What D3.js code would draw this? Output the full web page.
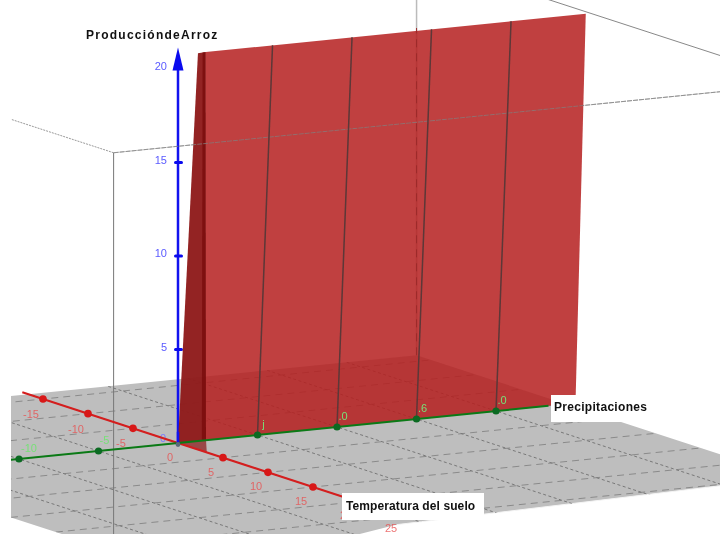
<!DOCTYPE html>
<html>
<head>
<meta charset="utf-8">
<script src="https://cdn.jsdelivr.net/npm/d3@7"></script>
<style>
  html, body { margin: 0; padding: 0; background: #fff; }
  svg { display: block; filter: blur(0.35px); }
  text { font-family: "Liberation Sans", sans-serif; }
</style>
</head>
<body>
<div id="chart"></div>
<script>
var tempTicks = [-15, -10, -5, 0, 5, 10, 15, 25],
    tempDots = [-15, -10, -5, 5, 10, 15],
    precipTicks = [-10, -5, 5, 10, 15, 20],
    precipLabels = ["-10", "-5", "j", ".0", ".6", ".0"],
    prodTicks = [5, 10, 15],
    prodLabels = [5, 10, 15, 20];

// surface: one sheet standing on the precipitation axis, leaning towards the viewer
var sheetLines = [5, 10, 15, 20],
    sheetLean = 1.67,
    sheetTop = 21.1,
    sheetStart = [1.76, 0.8],
    sheetEnd = [25, 24.7];

// box and floor limits
var tempMin = -16.6, tempMax = 25, tempMaxLeft = 27,
    precipMin = -19, precipMax = 24.4,
    boxTop = 21, boxBack = 21.32, boxLeft = -18.2;

var gridTemp = d3.range(-15, 30, 5),
    gridPrecip = d3.range(-15, 25, 5);

var svg = d3.select("#chart").append("svg");
svg.attr("width", "720");
svg.attr("height", "534");

var tempX = d3.scaleLinear().domain([0, 15]).range([178, 313]),
    tempY = d3.scaleLinear().domain([0, 15]).range([443, 487]),
    precipX = d3.scaleLinear().domain([0, 20]).range([0, 318]),
    precipY = d3.scaleLinear().domain([0, 20]).range([0, -32]),
    prodY = d3.scaleLinear().domain([0, 20]).range([0, -374]);

function project(t, p, z) {
    return [tempX(t) + precipX(p), tempY(t) + precipY(p) + prodY(z || 0)];
}

var line = d3.line();

function poly(points, fill, opacity, parent) {
    return (parent || svg).append("path")
        .attr("d", line(points) + "Z")
        .attr("fill", fill)
        .attr("opacity", opacity);
}

function seg(a, b, color, width, dash, parent) {
    return (parent || svg).append("path")
        .attr("d", line([a, b]))
        .attr("fill", "none")
        .attr("stroke", color)
        .attr("stroke-width", width)
        .attr("stroke-dasharray", dash || null);
}

var defs = svg.append("defs");
defs.append("clipPath").attr("id", "clip")
    .append("rect").attr("x", 11).attr("y", 0).attr("width", 709).attr("height", 534);

var floorPoints = [
    project(tempMin, precipMin),
    project(tempMin, precipMax),
    project(tempMax, precipMax),
    project(tempMaxLeft, -1.5),
    project(tempMaxLeft + 3, -8),
    project(tempMaxLeft, precipMin)
];
defs.append("clipPath").attr("id", "floorClip")
    .append("path").attr("d", line(floorPoints) + "Z");

var scene = svg.append("g").attr("clip-path", "url(#clip)");

// back edges of the box
seg(project(tempMax, boxLeft, boxTop), project(tempMin, boxLeft, boxTop), "#999", 1, "2 1", scene);
seg(project(tempMax, boxLeft, boxTop), project(tempMax, 30, boxTop), "#aaa", 1, "5 1", scene);
seg(project(tempMin, precipMax, boxBack), project(tempMax, precipMax, boxBack), "#888", 1, null, scene);
seg(project(tempMin, precipMax, 0), project(tempMin, precipMax, boxTop), "#bbb", 1.5, null, scene);

// floor and grid
poly(floorPoints, "#bebebe", 1, scene);
seg(project(tempMaxLeft, -1.5), project(tempMax, precipMax), "#f4f4f4", 1, null, scene);

var grid = scene.append("g").attr("clip-path", "url(#floorClip)");
gridTemp.forEach(function (t) {
    seg(project(t, precipMin), project(t, precipMax), "#8a8a8a", 1, "7 5", grid);
});
gridPrecip.forEach(function (p) {
    seg(project(tempMin, p), project(tempMaxLeft + 3, p), "#787878", 1, "3 2.5", grid);
});

seg(project(tempMaxLeft, precipMin), project(tempMaxLeft + 3, precipMin + 0.2), "#fff", 1.5, null, scene);
seg(project(tempMax, boxLeft), project(tempMax, boxLeft, boxTop), "#777", 1, null, scene);

scene.selectAll("text.temp")
    .data(tempTicks)
    .enter().append("text")
    .attr("class", "temp")
    .attr("x", function (d) { return project(d, 0)[0] - (d === 0 ? 8 : 12); })
    .attr("y", function (d) { return project(d, 0)[1] + (d === 25 ? 16 : d < 0 ? 19 : 18); })
    .attr("text-anchor", "middle")
    .attr("font-size", 11)
    .attr("fill", "#e85050")
    .attr("opacity", 0.8)
    .text(function (d) { return d; });
// only the first digit of 20 shows beside the label box
scene.append("text")
    .attr("x", project(20, 0)[0] - 18).attr("y", project(20, 0)[1] + 17)
    .attr("font-size", 11).attr("fill", "#e85050").attr("opacity", 0.8)
    .text("2");

// production axis stands behind the sheet
seg(project(0, 0), project(0, 0, 20.2), "#1212ee", 2.5, null, scene);
poly([project(0, 0, 21.15), [project(0, 0, 20)[0] + 5.5, project(0, 0, 20)[1] + 1.5], [project(0, 0, 20)[0] - 5.5, project(0, 0, 20)[1] + 1.5]], "#0a0aee", 1, scene);
scene.selectAll("rect.prod")
    .data(prodTicks)
    .enter().append("rect")
    .attr("class", "prod")
    .attr("x", function (d) { return project(0, 0, d)[0] - 4; })
    .attr("y", function (d) { return project(0, 0, d)[1] - 1.5; })
    .attr("width", 9).attr("height", 3).attr("rx", 1.5)
    .attr("fill", "#0a0aee");
scene.selectAll("text.prod")
    .data(prodLabels)
    .enter().append("text")
    .attr("class", "prod")
    .attr("x", function (d) { return project(0, 0, d)[0] - 11; })
    .attr("y", function (d) { return project(0, 0, d)[1] + 1; })
    .attr("text-anchor", "end")
    .attr("font-size", 11)
    .attr("fill", "#5a5aff")
    .text(function (d) { return d; });
scene.append("text")
    .attr("x", project(0, 0)[0] - 15).attr("y", project(0, 0)[1] - 1)
    .attr("text-anchor", "middle").attr("font-size", 11)
    .attr("fill", "#7a7aff").text("0");

// left wall of the surface
poly([
    project(sheetLean, 0.31, sheetTop - 0.02),
    project(sheetLean, sheetStart[1], sheetTop),
    project(0, sheetStart[0]),
    project(0, 0)
], "#8f1c1c", 0.97, scene);
poly([
    project(sheetLean, 0.6, sheetTop),
    project(sheetLean, sheetStart[1], sheetTop),
    project(0, sheetStart[0]),
    project(0, 1.5)
], "#760808", 0.7, scene);
poly([project(0, 0), project(3.2, 0), project(0, sheetStart[0])], "#8c1a1a", 0.72, scene);

// main surface
poly([
    project(0, sheetStart[0]),
    project(sheetLean, sheetStart[1], sheetTop),
    project(sheetLean, sheetEnd[1], sheetTop),
    project(0, sheetEnd[0])
], "#b51e1e", 0.85, scene);

// edges seen through the surface
seg(project(tempMax, boxLeft, boxTop), project(tempMax, 30, boxTop), "#888", 1, "5 1", scene).attr("opacity", 0.7);
seg(project(tempMin, precipMax, 0), project(tempMin, precipMax, 17.5), "#9c2a2a", 1, "8 6", scene);

sheetLines.forEach(function (p) {
    seg(project(0, p), project(sheetLean, p, sheetTop), "#5c3838", 1.5, null, scene);
});

// temperature axis
seg(project(-17.3, 0), project(18.4, 0), "#d41e1e", 2, null, scene);
scene.selectAll("circle.temp")
    .data(tempDots)
    .enter().append("circle")
    .attr("class", "temp")
    .attr("cx", function (d) { return project(d, 0)[0]; })
    .attr("cy", function (d) { return project(d, 0)[1]; })
    .attr("r", 3.8)
    .attr("fill", "#d81818");

// precipitation axis
seg(project(0, -11), project(0, 23.3), "#0b7a16", 2, null, scene);
scene.selectAll("circle.precip")
    .data(precipTicks)
    .enter().append("circle")
    .attr("class", "precip")
    .attr("cx", function (d) { return project(0, d)[0]; })
    .attr("cy", function (d) { return project(0, d)[1]; })
    .attr("r", 3.6)
    .attr("fill", "#0b6a22");
scene.selectAll("text.precip")
    .data(precipTicks)
    .enter().append("text")
    .attr("class", "precip")
    .attr("x", function (d) { return project(0, d)[0] + (d === -10 ? 10 : 6); })
    .attr("y", function (d) { return project(0, d)[1] - 7; })
    .attr("text-anchor", "middle")
    .attr("font-size", 11)
    .attr("fill", "#78e078")
    .text(function (d, i) { return precipLabels[i]; });

seg(project(0, 0), project(0, 0, 0.6), "#1212ee", 2.5, null, scene);
scene.append("circle")
    .attr("cx", project(0, 0)[0]).attr("cy", project(0, 0)[1] + 1.5)
    .attr("r", 2.4).attr("fill", "#5a6a78");

// axis titles
function boxLabel(txt, x, y, w, h, tx, ty, spacing) {
    svg.append("rect").attr("x", x).attr("y", y).attr("width", w).attr("height", h).attr("fill", "#fff");
    svg.append("text")
        .attr("x", tx).attr("y", ty)
        .attr("font-size", 12)
        .attr("font-weight", "bold")
        .attr("letter-spacing", spacing)
        .attr("fill", "#111")
        .text(txt);
}
boxLabel("Precipitaciones", 551, 395, 100, 27, 554, 411, 0.3);
boxLabel("Temperatura del suelo", 342, 493, 142, 27, 346, 510, 0.1);
boxLabel("ProduccióndeArroz", 80, 24, 145, 20, 86, 39, 1.25);
</script>
</body>
</html>
